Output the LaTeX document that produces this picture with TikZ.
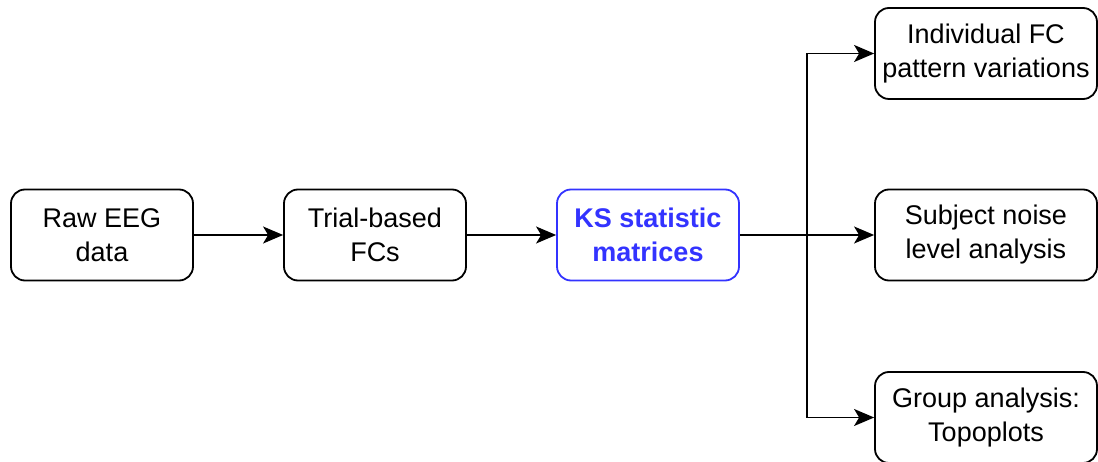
\documentclass[tikz,border=0pt]{standalone}
\usepackage{fontspec}
\setmainfont{Liberation Sans}
\usetikzlibrary{arrows.meta}
\definecolor{ksblue}{HTML}{3333FF}
\tikzset{
  x=1pt, y=1pt,
  stepbox/.style={draw=black, line width=1.8pt, rounded corners=14pt, fill=white,
    minimum width=182pt, minimum height=91pt, align=center, inner sep=0pt,
    font=\fontsize{27}{34}\selectfont},
  widebox/.style={stepbox, minimum width=222pt},
  keybox/.style={stepbox, draw=ksblue, text=ksblue, font=\fontsize{27}{34}\selectfont\bfseries},
  flow/.style={line width=1.8pt, -{Stealth[length=20pt, width=17pt, inset=5pt]}},
  trunk/.style={line width=1.8pt}
}
\begin{document}
\begin{tikzpicture}
\useasboundingbox (0,0) rectangle (1098,461);
\node[stepbox] (raw)   at (102,226)   {Raw EEG\\data};
\node[stepbox] (trial) at (375,226)   {Trial-based\\FCs};
\node[keybox]  (ks)    at (648,226)   {KS statistic\\matrices};
\node[widebox] (indiv) at (986,407.5) {Individual FC\\pattern variations};
\node[widebox] (noise) at (986,226)   {Subject noise\\level analysis};
\node[widebox] (group) at (986,43.5)  {Group analysis:\\Topoplots};
\coordinate (split) at (807,226);
\draw[flow] (raw) -- (trial);
\draw[flow] (trial) -- (ks);
\draw[trunk] (ks) -- (split);
\draw[flow] (split) -- (noise);
\draw[flow] (split) |- (indiv);
\draw[flow] (split) |- (group);
\end{tikzpicture}
\end{document}
